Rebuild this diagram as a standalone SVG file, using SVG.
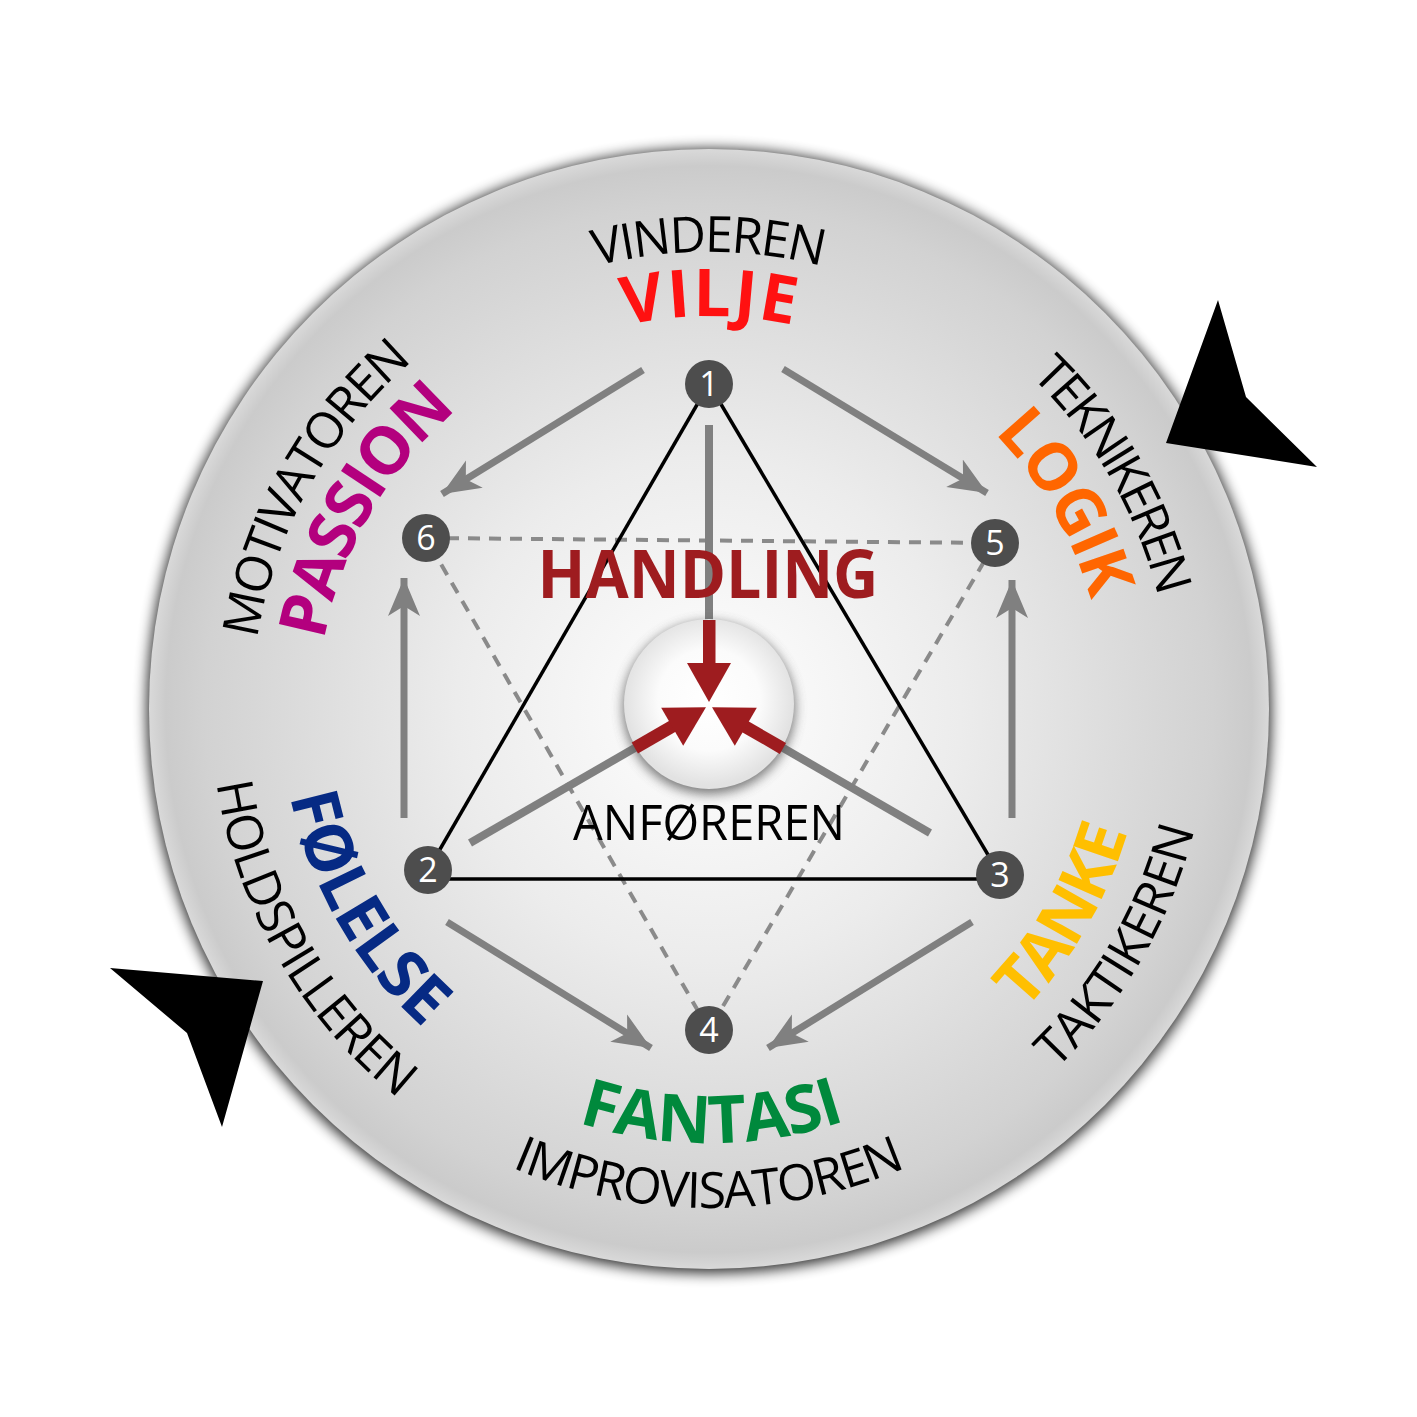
<svg xmlns="http://www.w3.org/2000/svg" xmlns:xlink="http://www.w3.org/1999/xlink" width="1417" height="1417" viewBox="0 0 1417 1417">
<style>
.big{font-family:"Open Sans","Liberation Sans",sans-serif;font-weight:700;font-size:66px}
.name{font-family:"Open Sans","Liberation Sans",sans-serif;font-weight:400;font-size:50px;fill:#000}
.num{font-family:"Open Sans","Liberation Sans",sans-serif;font-size:34px;fill:#fff;text-anchor:middle}
.node{fill:#4d4d4d}
.tri{stroke:#000;stroke-width:3.5;fill:none}
.dash{stroke:#8a8a8a;stroke-width:4;stroke-dasharray:12 9;fill:none}
.garrow{stroke:#808080;stroke-width:7;fill:none;marker-end:url(#gh)}
.gline{stroke:#808080;stroke-width:8;fill:none}
.red{fill:#9e1c1f}
</style>
<defs>
<radialGradient id="bg" cx="709" cy="709" r="560" gradientUnits="userSpaceOnUse">
<stop offset="0" stop-color="#ffffff"/>
<stop offset="0.45" stop-color="#ececec"/>
<stop offset="0.9" stop-color="#d2d2d2"/>
<stop offset="0.97" stop-color="#cbcbcb"/>
<stop offset="1" stop-color="#d9d9d9"/>
</radialGradient>
<radialGradient id="ig" cx="709" cy="700" r="85" gradientUnits="userSpaceOnUse">
<stop offset="0" stop-color="#ffffff"/>
<stop offset="0.6" stop-color="#fbfbfb"/>
<stop offset="1" stop-color="#e2e2e2"/>
</radialGradient>
<filter id="blur" x="-20%" y="-20%" width="140%" height="140%"><feGaussianBlur stdDeviation="7"/></filter>
<filter id="blur2" x="-40%" y="-40%" width="180%" height="180%"><feGaussianBlur stdDeviation="6"/></filter>
<marker id="gh" viewBox="-38 -18 40 36" refX="0" refY="0" markerWidth="40" markerHeight="36" markerUnits="userSpaceOnUse" orient="auto">
<path d="M0,0 L-38,-16 L-28,0 L-38,16 Z" fill="#808080"/>
</marker>
<path id="tVILJE" d="M456.4,408 A393,393 0 0 1 961.6,408"/>
<path id="tVIND" d="M415.2,358.9 A457,457 0 0 1 1002.8,358.9"/>
<path id="tLOGIK" d="M844.8,335.9 A397,397 0 0 1 1100,777.9"/>
<path id="tTEKN" d="M867.3,273.9 A463,463 0 0 1 1165,789.4"/>
<path id="tPASS" d="M323.9,776.9 A391,391 0 0 1 575.3,341.6"/>
<path id="tMOTI" d="M258.9,788.3 A457,457 0 0 1 552.7,279.6"/>
<path id="tFANT" d="M430,1041.4 A434,434 0 0 0 988,1041.4"/>
<path id="tIMPR" d="M388.2,1091.2 A499,499 0 0 0 1029.8,1091.2"/>
<path id="tTANK" d="M858.1,1118.7 A436,436 0 0 0 1138.4,633.3"/>
<path id="tTAKT" d="M880,1178.9 A500,500 0 0 0 1201.4,622.2"/>
<path id="tFOLE" d="M287.5,634.7 A428,428 0 0 0 562.6,1111.2"/>
<path id="tHOLD" d="M218.6,622.5 A498,498 0 0 0 538.7,1177"/>
</defs>
<rect width="1417" height="1417" fill="#fff"/>
<g id="disc">
<circle cx="709" cy="711" r="562" fill="#000" opacity="0.85" filter="url(#blur)"/>
<circle cx="709" cy="709" r="560" fill="url(#bg)"/>
</g>
<g id="rotation-arrows">
<polygon points="1218,300 1246,397 1317,467 1166,443" fill="#000"/>
<polygon points="110,968 263,981 222,1127 187,1033" fill="#000"/>
</g>
<g id="connectors">
<line class="dash" x1="426" y1="538" x2="995" y2="543"/>
<line class="dash" x1="995" y1="543" x2="709" y2="1030"/>
<line class="dash" x1="709" y1="1030" x2="426" y2="538"/>
<line class="tri" x1="709" y1="384" x2="428" y2="870"/>
<line class="tri" x1="440" y1="879" x2="990" y2="879"/>
<line class="tri" x1="1000" y1="875" x2="709" y2="384"/>
<line class="garrow" x1="643" y1="370" x2="442" y2="494"/>
<line class="garrow" x1="783" y1="369" x2="987" y2="493"/>
<line class="garrow" x1="404" y1="818" x2="404" y2="578"/>
<line class="garrow" x1="1012" y1="818" x2="1012" y2="580"/>
<line class="garrow" x1="447" y1="922" x2="651" y2="1048"/>
<line class="garrow" x1="972" y1="922" x2="768" y2="1048"/>
<line class="gline" x1="709" y1="425" x2="709" y2="625"/>
<line class="gline" x1="470" y1="843" x2="640" y2="745"/>
<line class="gline" x1="930" y1="833" x2="778" y2="745"/>
</g>
<g id="center">
<circle cx="709" cy="708" r="86" fill="#555" opacity="0.8" filter="url(#blur2)"/>
<circle cx="709" cy="704" r="85" fill="url(#ig)"/>
<g id="red-arrow-1">
<rect class="red" x="703" y="620" width="12.5" height="46"/>
<polygon class="red" points="687,663 731,663 709,702"/>
</g>
<g id="red-arrow-2" transform="rotate(120 709 705.5)">
<rect class="red" x="703" y="620" width="12.5" height="46"/>
<polygon class="red" points="687,663 731,663 709,702"/>
</g>
<g id="red-arrow-3" transform="rotate(240 709 705.5)">
<rect class="red" x="703" y="620" width="12.5" height="46"/>
<polygon class="red" points="687,663 731,663 709,702"/>
</g>
</g>
<g id="node-1"><circle class="node" cx="709" cy="384" r="24"/><text class="num" x="709" y="396">1</text></g>
<g id="node-2"><circle class="node" cx="428" cy="870" r="24"/><text class="num" x="428" y="882">2</text></g>
<g id="node-3"><circle class="node" cx="1000" cy="875" r="24"/><text class="num" x="1000" y="887">3</text></g>
<g id="node-4"><circle class="node" cx="709" cy="1030" r="24"/><text class="num" x="709" y="1042">4</text></g>
<g id="node-5"><circle class="node" cx="995" cy="543" r="24"/><text class="num" x="995" y="555">5</text></g>
<g id="node-6"><circle class="node" cx="426" cy="538" r="24"/><text class="num" x="426" y="550">6</text></g>
<g id="labels">
<text class="big" fill="#9e1c1f" x="708" y="598" text-anchor="middle" textLength="341" lengthAdjust="spacingAndGlyphs">HANDLING</text>
<text class="name" x="709" y="840" text-anchor="middle" font-size="48" textLength="272" lengthAdjust="spacingAndGlyphs">ANFØREREN</text>
<text class="name"><textPath href="#tVIND" startOffset="50%" text-anchor="middle" textLength="228">VINDEREN</textPath></text>
<text class="big" fill="#ff1111"><textPath href="#tVILJE" startOffset="50%" text-anchor="middle" textLength="170">VILJE</textPath></text>
<text class="name"><textPath href="#tTEKN" startOffset="50%" text-anchor="middle" textLength="258">TEKNIKEREN</textPath></text>
<text class="big" fill="#ff6600"><textPath href="#tLOGIK" startOffset="50%" text-anchor="middle" textLength="195">LOGIK</textPath></text>
<text class="name"><textPath href="#tMOTI" startOffset="49%" text-anchor="middle" textLength="325">MOTIVATOREN</textPath></text>
<text class="big" fill="#b3007e"><textPath href="#tPASS" startOffset="50%" text-anchor="middle" textLength="272">PASSION</textPath></text>
<text class="name"><textPath href="#tTAKT" startOffset="50%" text-anchor="middle" textLength="280">TAKTIKEREN</textPath></text>
<text class="big" fill="#ffbf00"><textPath href="#tTANK" startOffset="50%" text-anchor="middle" textLength="208">TANKE</textPath></text>
<text class="name"><textPath href="#tIMPR" startOffset="50%" text-anchor="middle" textLength="405">IMPROVISATOREN</textPath></text>
<text class="big" fill="#00893c"><textPath href="#tFANT" startOffset="50.5%" text-anchor="middle" textLength="272">FANTASI</textPath></text>
<text class="name"><textPath href="#tHOLD" startOffset="50%" text-anchor="middle" textLength="372">HOLDSPILLEREN</textPath></text>
<text class="big" fill="#062a84"><textPath href="#tFOLE" startOffset="50%" text-anchor="middle" textLength="272">FØLELSE</textPath></text>
</g>
</svg>
